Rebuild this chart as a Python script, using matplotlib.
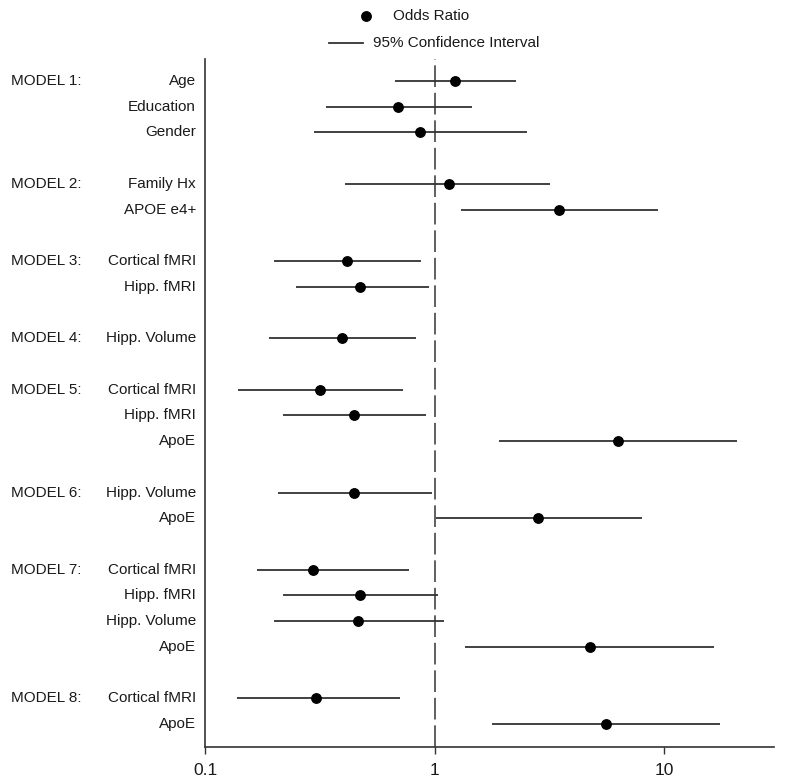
import matplotlib
matplotlib.use("Agg")
import matplotlib.pyplot as plt
from matplotlib.lines import Line2D
from matplotlib.transforms import blended_transform_factory
from matplotlib.ticker import FixedLocator, NullLocator, FixedFormatter

plt.rcParams['font.family'] = ['Liberation Sans', 'DejaVu Sans']

# rows in display order; a blank gap is left between models
models = ["MODEL 1:", "MODEL 2:", "MODEL 3:", "MODEL 4:",
          "MODEL 5:", "MODEL 6:", "MODEL 7:", "MODEL 8:"]
predictors = [
    ["Age", "Education", "Gender"],
    ["Family Hx", "APOE e4+"],
    ["Cortical fMRI", "Hipp. fMRI"],
    ["Hipp. Volume"],
    ["Cortical fMRI", "Hipp. fMRI", "ApoE"],
    ["Hipp. Volume", "ApoE"],
    ["Cortical fMRI", "Hipp. fMRI", "Hipp. Volume", "ApoE"],
    ["Cortical fMRI", "ApoE"],
]
odds = [
    [1.23, 0.69, 0.86],
    [1.15, 3.48],
    [0.415, 0.473],
    [0.394],
    [0.316, 0.445, 6.3],
    [0.445, 2.83],
    [0.296, 0.473, 0.464, 4.73],
    [0.305, 5.58],
]
ci_low = [
    [0.672, 0.336, 0.298],
    [0.407, 1.30],
    [0.199, 0.248],
    [0.189],
    [0.139, 0.219, 1.90],
    [0.208, 1.015],
    [0.169, 0.219, 0.199, 1.36],
    [0.138, 1.78],
]
ci_high = [
    [2.25, 1.45, 2.51],
    [3.19, 9.42],
    [0.873, 0.94],
    [0.83],
    [0.725, 0.918, 20.8],
    [0.975, 8.02],
    [0.774, 1.036, 1.095, 16.5],
    [0.707, 17.4],
]
xticks = [0.1, 1, 10]
xticklabels = ["0.1", "1", "10"]

W, H = 786, 784
fig = plt.figure(figsize=(W / 100, H / 100), dpi=100)
left, right, top, bottom = 205, 774, 59, 746.7
ax = fig.add_axes([left / W, 1 - bottom / H, (right - left) / W, (bottom - top) / H])

txt_color = "#1a1a1a"
line_color = "#333333"
fs = 11
label_tr = blended_transform_factory(fig.transFigure, ax.transData)

pos = 0
for m, preds, ors, los, his in zip(models, predictors, odds, ci_low, ci_high):
    for i, (p, o, lo, hi) in enumerate(zip(preds, ors, los, his)):
        ax.plot([lo, hi], [pos, pos], color=line_color, lw=1.3, solid_capstyle='butt', zorder=2)
        ax.plot([o], [pos], 'o', color='black', ms=6.8, zorder=3)
        ax.text(196 / W, pos, p, transform=label_tr, ha='right', va='center',
                fontsize=fs, color=txt_color)
        if i == 0:
            ax.text(11 / W, pos, m, transform=label_tr, ha='left', va='center',
                    fontsize=fs, color=txt_color)
        pos += 1
    pos += 1  # gap between models
last = pos - 2

ax.axvline(1, color="#444444", lw=1.2, dashes=(13, 3.5), zorder=1)

ax.set_xscale('log')
ax.set_xlim(0.1, 30)
ax.set_ylim(last + (bottom - 724) / 25.72, -(81 - top) / 25.72)
ax.xaxis.set_major_locator(FixedLocator(xticks))
ax.xaxis.set_major_formatter(FixedFormatter(xticklabels))
ax.xaxis.set_minor_locator(NullLocator())
ax.set_yticks([])
ax.tick_params(axis='x', length=5, width=1, color='#333333', labelsize=12.5,
               labelcolor=txt_color, pad=7)
for s in ['top', 'right']:
    ax.spines[s].set_visible(False)
for s in ['left', 'bottom']:
    ax.spines[s].set_color('#333333')
    ax.spines[s].set_linewidth(1.2)

# legend drawn above the plot
fig.add_artist(Line2D([366 / W], [1 - 16 / H], marker='o', color='black', ms=6.8,
                      transform=fig.transFigure))
fig.text(393 / W, 1 - 16 / H, "Odds Ratio", ha='left', va='center', fontsize=fs, color=txt_color)
fig.add_artist(Line2D([329 / W, 363 / W], [1 - 43 / H, 1 - 43 / H], color=line_color, lw=1.3,
                      transform=fig.transFigure))
fig.text(373 / W, 1 - 43 / H, "95% Confidence Interval", ha='left', va='center',
         fontsize=fs, color=txt_color)

fig.savefig("out.png", dpi=100)
